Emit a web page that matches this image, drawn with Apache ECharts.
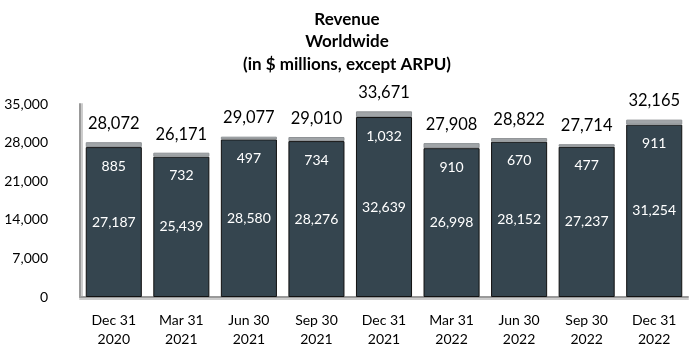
<!DOCTYPE html>
<html>
<head>
<meta charset="utf-8">
<script src="https://cdn.jsdelivr.net/npm/echarts@6/dist/echarts.min.js"></script>
<style>
html,body{margin:0;padding:0;background:#fff;}
#c{width:694px;height:356px;}
</style>
</head>
<body>
<div id="c"></div>
<script>
var categories = ['Dec 31\n2020','Mar 31\n2021','Jun 30\n2021','Sep 30\n2021','Dec 31\n2021','Mar 31\n2022','Jun 30\n2022','Sep 30\n2022','Dec 31\n2022'];
var baseValues = [27187,25439,28580,28276,32639,26998,28152,27237,31254];
var topValues = [885,732,497,734,1032,910,670,477,911];
var totals = [28072,26171,29077,29010,33671,27908,28822,27714,32165];
var yTicks = [0,7000,14000,21000,28000,35000];

var FONT = 'Lato';
function fmt(v){ return v.toLocaleString('en-US'); }

var chart = echarts.init(document.getElementById('c'), null, {renderer:'canvas'});
chart.setOption({
  animation:false,
  title:{
    text:'Revenue\nWorldwide\n(in $ millions, except ARPU)',
    left:'center', top:3,
    textStyle:{fontFamily:FONT,fontWeight:'bold',fontSize:17,lineHeight:22.5,color:'#000'}
  },
  grid:{left:80,right:6,top:104,bottom:59},
  xAxis:{
    type:'category',
    data:categories,
    axisLine:{show:true,lineStyle:{color:'#999',width:2,shadowColor:'#ccc',shadowOffsetY:2}},
    axisTick:{show:false},
    axisLabel:{fontFamily:FONT,fontSize:14,lineHeight:19,color:'#000',margin:14,interval:0}
  },
  yAxis:{
    type:'value',
    min:yTicks[0], max:yTicks[yTicks.length-1], interval:7000,
    splitLine:{show:false},
    axisLine:{show:true,lineStyle:{color:'#999',width:2,shadowColor:'#ccc',shadowOffsetX:2}},
    axisTick:{show:false},
    axisLabel:{fontFamily:FONT,fontSize:14,color:'#000',margin:32,formatter:function(v){return fmt(v);}}
  },
  series:[
    {
      type:'bar', stack:'rev', data:baseValues, barWidth:'83%',
      itemStyle:{color:'#35454f',borderColor:'#111',borderWidth:1},
      label:{show:true,position:'inside',color:'#fff',fontFamily:FONT,fontSize:14,formatter:function(p){return fmt(p.value);}}
    },
    {
      type:'bar', stack:'rev', data:topValues,
      itemStyle:{color:'#a1a5a8',borderColor:'#8e9295',borderWidth:1},
      label:{show:true,position:'bottom',distance:12,color:'#fff',fontFamily:FONT,fontSize:14,lineHeight:14,formatter:function(p){return fmt(p.value);}}
    },
    {
      type:'bar', stack:'rev', data:totals.map(function(){return 0;}),
      itemStyle:{color:'transparent'},
      label:{show:true,position:'top',distance:10,color:'#000',fontFamily:FONT,fontSize:16.5,lineHeight:17,formatter:function(p){return fmt(totals[p.dataIndex]);}}
    }
  ]
});
</script>
</body>
</html>
